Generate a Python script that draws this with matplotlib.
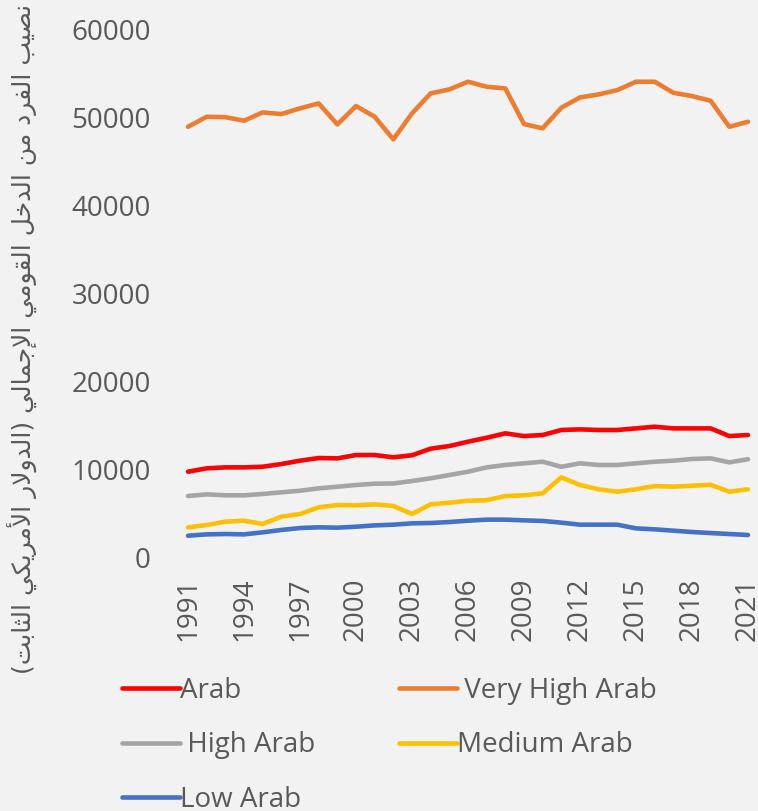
import matplotlib
matplotlib.use("Agg")
import matplotlib.pyplot as plt

years = list(range(1991, 2022))
arab = [9790, 10170, 10280, 10280, 10350, 10660, 11040, 11340, 11300, 11680, 11680,
        11420, 11650, 12400, 12700, 13190, 13640, 14140, 13830, 13950, 14520, 14590,
        14520, 14520, 14700, 14890, 14700, 14700, 14700, 13830, 13950]
very_high = [48910, 50050, 50000, 49600, 50540, 50350, 51000, 51560, 49180, 51260, 50050,
             47480, 50430, 52700, 53150, 54020, 53450, 53260, 49220, 48730, 51070, 52240,
             52580, 53070, 54020, 54020, 52770, 52390, 51860, 48910, 49480]
high = [7030, 7220, 7110, 7110, 7260, 7450, 7630, 7900, 8090, 8280, 8430, 8450, 8730,
        9040, 9410, 9790, 10280, 10550, 10740, 10920, 10350, 10740, 10550, 10550, 10740,
        10920, 11040, 11230, 11300, 10850, 11200]
medium = [3480, 3740, 4120, 4230, 3860, 4690, 4990, 5750, 6010, 5980, 6090, 5900, 4990,
          6090, 6270, 6500, 6550, 7030, 7110, 7330, 9150, 8280, 7790, 7520, 7790, 8160,
          8090, 8200, 8310, 7520, 7790]
low = [2530, 2680, 2720, 2680, 2910, 3180, 3400, 3480, 3440, 3550, 3700, 3780, 3930,
       3970, 4080, 4230, 4350, 4350, 4270, 4200, 4010, 3780, 3780, 3780, 3360, 3250,
       3100, 2950, 2830, 2720, 2610]

series_names = ["Arab", " Very High Arab", " High Arab", "Medium Arab", "Low Arab"]
series_colors = ["#FF0000", "#ED7D31", "#A5A5A5", "#FFC000", "#4472C4"]
xtick_years = list(range(1991, 2022, 3))
yticks = [0, 10000, 20000, 30000, 40000, 50000, 60000]
ylabel_ar = "نصيب الفرد من الدخل القومي الإجمالي (الدولار الأمريكي الثابت)"

# ---- minimal Arabic shaping (presentation forms) + RTL ordering ----
DUAL = {'ب': 0xFE8F, 'ت': 0xFE95, 'ث': 0xFE99, 'ج': 0xFE9D, 'ح': 0xFEA1, 'خ': 0xFEA5,
        'س': 0xFEB1, 'ش': 0xFEB5, 'ص': 0xFEB9, 'ض': 0xFEBD, 'ط': 0xFEC1, 'ظ': 0xFEC5,
        'ع': 0xFEC9, 'غ': 0xFECD, 'ف': 0xFED1, 'ق': 0xFED5, 'ك': 0xFED9, 'ل': 0xFEDD,
        'م': 0xFEE1, 'ن': 0xFEE5, 'ه': 0xFEE9, 'ي': 0xFEF1, 'ى': 0xFEEF, 'ئ': 0xFE89}
RIGHT = {'ا': 0xFE8D, 'أ': 0xFE83, 'إ': 0xFE87, 'آ': 0xFE81, 'د': 0xFEA9, 'ذ': 0xFEAB,
         'ر': 0xFEAD, 'ز': 0xFEAF, 'و': 0xFEED, 'ة': 0xFE93, 'ؤ': 0xFE85}
LAMALEF = {'آ': 0xFEF5, 'أ': 0xFEF7, 'إ': 0xFEF9, 'ا': 0xFEFB}


def shape_arabic(text):
    units = []  # (kind, char)
    i = 0
    while i < len(text):
        c = text[i]
        if c == 'ل' and i + 1 < len(text) and text[i + 1] in LAMALEF:
            units.append(('LA', text[i + 1]))
            i += 2
            continue
        if c in DUAL:
            units.append(('D', c))
        elif c in RIGHT:
            units.append(('R', c))
        else:
            units.append(('N', c))
        i += 1
    out = []
    for k, (kind, c) in enumerate(units):
        prev_joins = k > 0 and units[k - 1][0] == 'D' and kind != 'N'
        next_joins = (kind == 'D' and k + 1 < len(units) and units[k + 1][0] != 'N')
        if kind == 'N':
            out.append(c)
        elif kind == 'LA':
            out.append(chr(LAMALEF[c] + (1 if prev_joins else 0)))
        elif kind == 'R':
            out.append(chr(RIGHT[c] + (1 if prev_joins else 0)))
        else:
            base = DUAL[c]
            if prev_joins and next_joins:
                out.append(chr(base + 3))
            elif prev_joins:
                out.append(chr(base + 1))
            elif next_joins:
                out.append(chr(base + 2))
            else:
                out.append(chr(base))
    mirror = {'(': ')', ')': '('}
    return ''.join(mirror.get(ch, ch) for ch in reversed(out))


FONT = ["Open Sans", "DejaVu Sans"]
TXT = "#595959"
BG = "#F2F2F2"

fig = plt.figure(figsize=(7.58, 8.11), dpi=100, facecolor=BG)
ax = fig.add_axes([178.7 / 758, 1 - 558 / 811, 578.6 / 758, 529 / 811])
ax.set_facecolor(BG)

all_series = [arab, very_high, high, medium, low]
lines = []
for vals, name, col in zip(all_series, series_names, series_colors):
    ln, = ax.plot(years, vals, color=col, lw=3.3, label=name,
                  solid_capstyle="round", solid_joinstyle="round")
    lines.append(ln)

ax.set_xlim(1990.5, 2021.5)
ax.set_ylim(0, 60000)
ax.set_yticks(yticks)
ax.set_yticklabels([str(v) for v in yticks], fontsize=20, color=TXT, family=FONT)
ax.set_xticks(xtick_years)
ax.set_xticklabels([str(y) for y in xtick_years], rotation=90, fontsize=20,
                   color=TXT, family=FONT)
ax.tick_params(axis="both", length=0)
ax.tick_params(axis="y", pad=20)
ax.tick_params(axis="x", pad=14)
for s in ax.spines.values():
    s.set_visible(False)

fig.text(22 / 758, 1 - 339 / 811, shape_arabic(ylabel_ar), rotation=90,
         ha="center", va="center", fontsize=18, color=TXT, family=["DejaVu Sans"])

order = [0, 2, 4, 1, 3]
leg = fig.legend([lines[i] for i in order], [series_names[i] for i in order],
                 loc="upper left", bbox_to_anchor=(122 / 758, 1 - 677 / 811),
                 ncol=2, frameon=False, borderaxespad=0, borderpad=0,
                 handlelength=2.1, handletextpad=0.0, columnspacing=3.0,
                 labelspacing=0.95, prop={"family": FONT, "size": 20})
for t in leg.get_texts():
    t.set_color(TXT)

fig.savefig("out.png", dpi=100, facecolor=BG)
